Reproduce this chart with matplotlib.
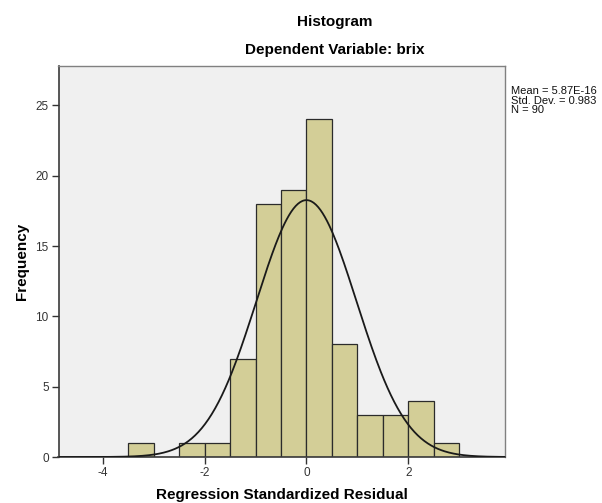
import numpy as np
import matplotlib
matplotlib.use("Agg")
import matplotlib.pyplot as plt

plt.rcParams['font.family'] = ['Liberation Sans', 'DejaVu Sans']
plt.rcParams['axes.unicode_minus'] = False

# histogram of regression standardized residuals
bin_edges = [-3.5, -3.0, -2.5, -2.0, -1.5, -1.0, -0.5, 0.0, 0.5, 1.0, 1.5, 2.0, 2.5, 3.0]
counts = [1, 0, 1, 1, 7, 18, 19, 24, 8, 3, 3, 4, 1]
mean = 5.87e-16
std = 0.983
n = 90

fig = plt.figure(figsize=(6.02, 5.03), dpi=100)
ax = fig.add_axes([58.5 / 602, 1 - 457 / 503, (505 - 58.5) / 602, (457 - 66) / 503])
ax.set_facecolor("#F0F0F0")

lefts = np.array(bin_edges[:-1])
widths = np.diff(bin_edges)
ax.bar(lefts, counts, width=widths, align="edge", color="#D3CE97",
       edgecolor="#2b2b2b", linewidth=0.9, zorder=2)

# normal curve scaled to the counts
xs = np.linspace(-4.87, 3.9, 400)
bw = widths[0]
ys = n * bw / (std * np.sqrt(2 * np.pi)) * np.exp(-0.5 * ((xs - mean) / std) ** 2)
ax.plot(xs, ys, color="#1a1a1a", linewidth=1.3, zorder=3)

ax.set_xlim(-4.87, 3.9)
ax.set_ylim(0, 27.8)
ax.set_xticks([-4, -2, 0, 2])
ax.set_yticks([0, 5, 10, 15, 20, 25])
ax.tick_params(direction="out", length=5, width=1, colors="#333333",
               labelsize=8.5, pad=2)

for side in ["left", "bottom"]:
    ax.spines[side].set_color("#3a3a3a")
    ax.spines[side].set_linewidth(1.2)
for side in ["top", "right"]:
    ax.spines[side].set_color("#808080")
    ax.spines[side].set_linewidth(1.0)

ax.set_xlabel("Regression Standardized Residual", fontsize=11, fontweight="bold", labelpad=7)
ax.set_ylabel("Frequency", fontsize=11, fontweight="bold", labelpad=5)

fig.text(335 / 602, 1 - 22 / 503, "Histogram", ha="center", va="center",
         fontsize=11, fontweight="bold")
fig.text(335 / 602, 1 - 50 / 503, "Dependent Variable: brix", ha="center", va="center",
         fontsize=11, fontweight="bold")

fig.text(511 / 602, 1 - 86 / 503,
         f"Mean = 5.87E-16\nStd. Dev. = {std}\nN = {n}",
         ha="left", va="top", fontsize=8, linespacing=0.95, color="#111111")

fig.savefig("out.png", dpi=100)
